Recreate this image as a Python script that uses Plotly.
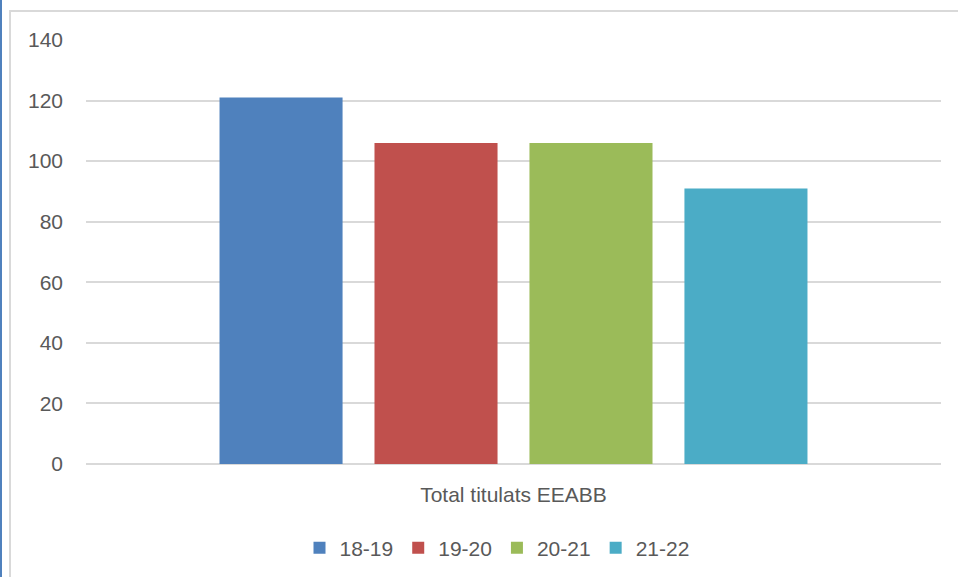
import plotly.graph_objects as go

categories = ["Total titulats EEABB"]
series_names = ["18-19", "19-20", "20-21", "21-22"]
series_values = [[121], [106], [106], [91]]
colors = ["#4f81bd", "#c0504d", "#9bbb59", "#4bacc6"]
y_ticks = [0, 20, 40, 60, 80, 100, 120, 140]

fig = go.Figure()
for name, vals, col in zip(series_names, series_values, colors):
    fig.add_trace(go.Bar(x=categories, y=vals, name=name, marker=dict(color=col, line=dict(width=0))))

W, H = 958, 577
L, R, T, B = 86, 17, 40, 113
pw, ph = W - L - R, H - T - B

def px_x(p):
    return (p - L) / pw

def px_y(p):
    return (H - B - p) / ph

font = dict(family="Liberation Sans, Arial, sans-serif", size=21, color="#595959")

fig.update_layout(
    width=W, height=H,
    margin=dict(l=L, r=R, t=T, b=B, autoexpand=False),
    paper_bgcolor="white", plot_bgcolor="white",
    barmode="group", bargap=0.275, bargroupgap=0.206,
    font=font,
    showlegend=True,
    legend=dict(orientation="h", x=px_x(497), xanchor="center", y=px_y(548), yanchor="middle",
                font=dict(family=font["family"], size=21, color="#595959"),
                itemwidth=30, tracegroupgap=0, bgcolor="rgba(0,0,0,0)"),
    xaxis=dict(showgrid=False, showline=False, zeroline=False, ticks="",
               tickfont=font, ticklabelstandoff=16),
    yaxis=dict(range=[0, 140], tickvals=y_ticks, showgrid=True, gridcolor="#d9d9d9", gridwidth=1.5,
               zeroline=True, zerolinecolor="#d9d9d9", zerolinewidth=1.5, showline=False,
               ticks="", tickfont=font, ticklabelstandoff=22),
    shapes=[
        dict(type="rect", xref="paper", yref="paper", x0=px_x(10), x1=px_x(W + 20), y0=px_y(H + 20), y1=px_y(11),
             line=dict(color="#d9d9d9", width=2), fillcolor="rgba(0,0,0,0)", layer="below"),
        dict(type="line", xref="paper", yref="paper", x0=px_x(1), x1=px_x(1), y0=px_y(H + 20), y1=px_y(-20),
             line=dict(color="#4f81bd", width=2)),
    ],
)

fig.write_html(
    "out.html",
    config={"displayModeBar": False},
    post_script="document.body.style.margin='0';document.body.style.overflow='hidden';",
)
